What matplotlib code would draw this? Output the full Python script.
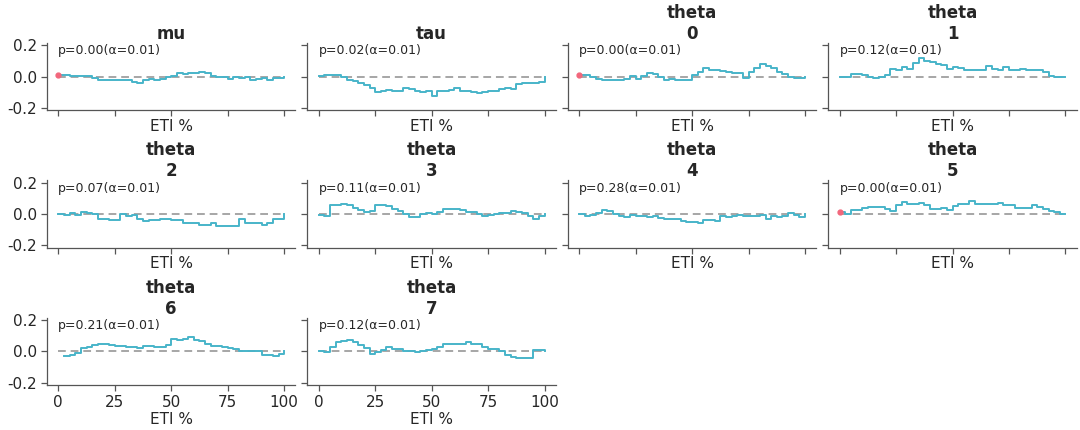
import numpy as np
import matplotlib
matplotlib.use("Agg")
import matplotlib.pyplot as plt

plt.rcParams['font.family'] = ['DejaVu Sans']

# ---------------- data ----------------
eti = np.arange(0, 100.01, 2.5)  # ETI % grid

titles = ["mu", "tau", "theta\n0", "theta\n1", "theta\n2", "theta\n3",
          "theta\n4", "theta\n5", "theta\n6", "theta\n7"]
p_values = [0.00, 0.02, 0.00, 0.12, 0.07, 0.11, 0.28, 0.00, 0.21, 0.12]
alpha_level = 0.01

mu = [0.012, 0.01, 0.005, 0.004, 0.003, 0.002, -0.01, -0.02, -0.022, -0.025, -0.022,
      -0.025, -0.02, -0.035, -0.04, -0.025, -0.015, -0.02, -0.018, -0.005, 0.005,
      0.02, 0.015, 0.025, 0.022, 0.028, 0.02, 0.005, 0.0, -0.003, -0.015,
      -0.005, -0.008, -0.005, -0.02, -0.015, -0.01, -0.025, -0.012, -0.012, 0.0]
tau = [0.005, 0.01, 0.01, 0.01, 0.0, -0.02, -0.03, -0.04, -0.055, -0.07, -0.1,
       -0.09, -0.085, -0.09, -0.09, -0.075, -0.08, -0.09, -0.1, -0.095, -0.125,
       -0.095, -0.09, -0.085, -0.075, -0.09, -0.095, -0.1, -0.105, -0.1, -0.09,
       -0.09, -0.08, -0.075, -0.08, -0.045, -0.04, -0.04, -0.04, -0.035, 0.0]
theta0 = [0.012, 0.008, -0.005, -0.015, -0.025, -0.022, -0.02, -0.02, -0.015, 0.005, -0.015,
          0.005, 0.02, 0.015, -0.005, -0.02, -0.018, -0.025, -0.02, -0.022, 0.01,
          0.03, 0.055, 0.045, 0.04, 0.038, 0.03, 0.025, 0.02, -0.01, 0.03,
          0.055, 0.08, 0.07, 0.055, 0.03, 0.015, -0.005, -0.01, -0.01, 0.0]
theta1 = [-0.005, -0.005, 0.015, 0.017, 0.01, 0.0, -0.01, 0.0, 0.01, 0.05, 0.04,
          0.06, 0.05, 0.09, 0.12, 0.1, 0.095, 0.08, 0.075, 0.05, 0.06,
          0.055, 0.045, 0.045, 0.045, 0.045, 0.07, 0.05, 0.045, 0.06, 0.04,
          0.04, 0.05, 0.045, 0.04, 0.04, 0.03, 0.005, 0.0, -0.005, 0.0]
theta2 = [0.0, -0.005, 0.005, -0.005, 0.015, 0.005, 0.0, -0.03, -0.035, -0.04, -0.04,
          0.0, -0.015, -0.005, -0.035, -0.045, -0.04, -0.04, -0.035, -0.03, -0.04,
          -0.04, -0.055, -0.055, -0.055, -0.07, -0.07, -0.06, -0.075, -0.078, -0.075,
          -0.08, -0.035, -0.055, -0.055, -0.06, -0.07, -0.06, -0.03, -0.03, 0.0]
theta3 = [-0.005, -0.01, 0.055, 0.055, 0.065, 0.06, 0.04, 0.025, 0.015, 0.02, 0.06,
          0.06, 0.05, 0.035, 0.02, 0.0, -0.02, -0.02, 0.0, 0.005, 0.0,
          0.01, 0.035, 0.035, 0.03, 0.025, 0.015, 0.01, 0.0, -0.015, -0.005,
          0.0, 0.005, 0.005, 0.02, 0.01, 0.005, -0.01, -0.03, -0.015, 0.0]
theta4 = [0.0, -0.015, -0.005, 0.005, 0.025, 0.02, 0.0, -0.01, -0.02, -0.005, -0.01,
          -0.01, -0.02, -0.015, -0.025, -0.03, -0.03, -0.035, -0.045, -0.05, -0.05,
          -0.06, -0.04, -0.04, -0.045, -0.01, -0.02, -0.015, -0.005, -0.015, -0.015,
          -0.015, -0.005, -0.03, -0.015, -0.02, -0.015, 0.005, -0.005, -0.02, 0.0]
theta5 = [0.015, 0.0, 0.028, 0.028, 0.04, 0.045, 0.045, 0.045, 0.03, 0.02, 0.055,
          0.075, 0.065, 0.065, 0.07, 0.055, 0.035, 0.035, 0.04, 0.025, 0.05,
          0.065, 0.065, 0.08, 0.065, 0.065, 0.065, 0.065, 0.07, 0.055, 0.055,
          0.04, 0.04, 0.04, 0.06, 0.045, 0.03, 0.02, 0.013, 0.0, 0.0]
theta6 = [np.nan, -0.03, -0.025, -0.01, 0.02, 0.03, 0.04, 0.045, 0.045, 0.04, 0.035,
          0.035, 0.03, 0.025, 0.02, 0.035, 0.035, 0.03, 0.025, 0.04, 0.08,
          0.075, 0.08, 0.095, 0.075, 0.065, 0.045, 0.035, 0.035, 0.025, 0.02,
          0.015, 0.005, 0.003, 0.0, 0.0, -0.02, -0.025, -0.03, -0.015, 0.0]
theta7 = [0.0, -0.003, 0.025, 0.06, 0.065, 0.07, 0.06, 0.04, 0.02, -0.015, -0.005,
          0.01, 0.025, 0.015, 0.015, 0.0, 0.0, -0.005, 0.0, 0.01, 0.015,
          0.03, 0.045, 0.045, 0.045, 0.05, 0.06, 0.045, 0.045, 0.03, 0.015,
          0.015, 0.005, -0.02, -0.035, -0.04, -0.04, -0.045, 0.01, 0.01, 0.0]

series = [mu, tau, theta0, theta1, theta2, theta3, theta4, theta5, theta6, theta7]

# points flagged outside the envelope (panel index, ETI %, value)
flag_panels = [0, 2, 7]
flag_x = [0.0, 0.0, 0.0]
flag_y = [0.012, 0.012, 0.015]

xticks = [0, 25, 50, 75, 100]
yticks = [-0.2, 0.0, 0.2]

# ---------------- style ----------------
line_color = "#48b4c9"
flag_color = "#f2677c"
ref_color = "#a6a6a6"
text_color = "#262626"
spine_color = "#555555"

fig, axes = plt.subplots(3, 4, figsize=(10.8, 4.3), dpi=100)
fig.subplots_adjust(left=0.0435, right=0.997, bottom=0.1047, top=0.9,
                    wspace=0.048, hspace=1.045)

for idx, ax in enumerate(axes.flat):
    if idx >= len(series):
        ax.set_visible(False)
        continue
    row, col = divmod(idx, 4)
    y = np.array(series[idx], dtype=float)
    ax.plot([0, 100], [0, 0], color=ref_color, lw=1.4, ls=(0, (4, 2.5)), zorder=1)
    ax.step(eti, y, where="post", color=line_color, lw=1.4, zorder=2)
    for pi, fx, fy in zip(flag_panels, flag_x, flag_y):
        if pi == idx:
            ax.plot([fx], [fy], "o", color=flag_color, ms=3.5, zorder=3)
    ax.set_xlim(-5, 105)
    ax.set_ylim(-0.215, 0.215)
    ax.set_xticks(xticks)
    ax.set_yticks(yticks)
    ax.set_xticklabels([str(t) for t in xticks])
    ax.set_yticklabels([f"{t:.1f}" for t in yticks])
    ax.tick_params(axis="both", direction="out", length=4, width=0.9,
                   color=spine_color, labelsize=11, labelcolor=text_color, pad=3)
    if row < 2 and idx + 4 < len(series):
        ax.tick_params(axis="x", labelbottom=False)
    if col != 0:
        ax.tick_params(axis="y", labelleft=False)
    for s in ["top", "right"]:
        ax.spines[s].set_visible(False)
    for s in ["left", "bottom"]:
        ax.spines[s].set_color(spine_color)
        ax.spines[s].set_linewidth(0.9)
    ax.set_xlabel("ETI %", fontsize=11, color=text_color, labelpad=2)
    ax.set_title(titles[idx], fontsize=12, fontweight="bold", color=text_color,
                 pad=3, linespacing=1.2)
    ax.text(0.045, 0.98, f"p={p_values[idx]:.2f}(α={alpha_level:.2f})",
            transform=ax.transAxes, ha="left", va="top", fontsize=9,
            color=text_color)

# row-1 panels in columns 2,3 have no panel below: keep tick marks but no labels
for ax in [axes[1, 2], axes[1, 3]]:
    ax.tick_params(axis="x", labelbottom=False)

fig.savefig("out.png", dpi=100)
